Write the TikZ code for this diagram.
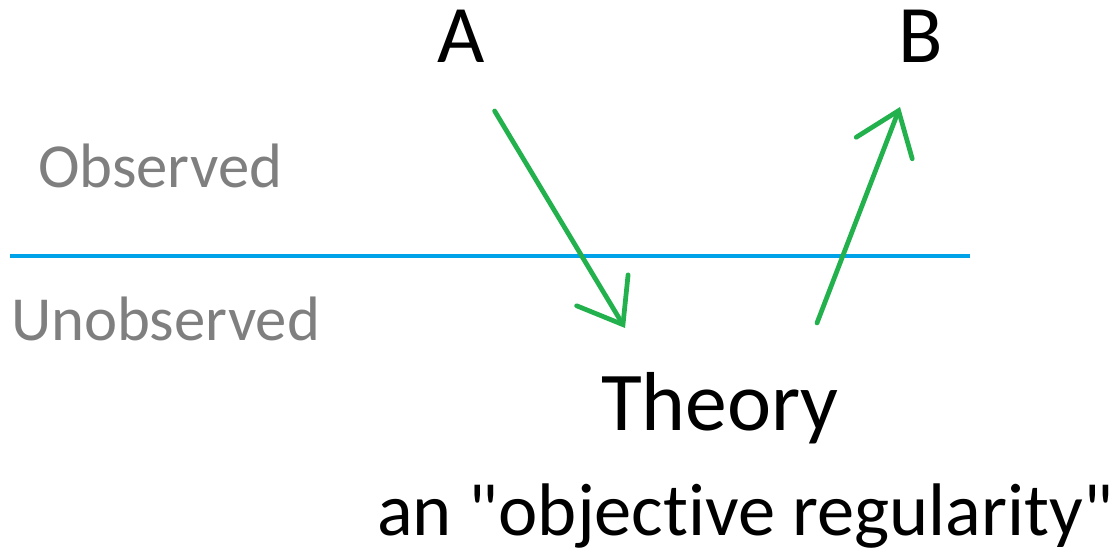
\documentclass[tikz,border=0pt]{standalone}
\usepackage{fontspec}
\setmainfont{Carlito}[Ligatures={TeXOff,CommonOff}]
\usetikzlibrary{arrows.meta}
\definecolor{paintgreen}{RGB}{34,177,76}
\definecolor{paintblue}{RGB}{0,162,232}
\definecolor{labelgray}{RGB}{127,127,127}
\begin{document}
\begin{tikzpicture}[x=.02cm,y=-.02cm,line join=round,line cap=round,
	txt/.style={inner sep=0pt,outer sep=0pt},
	region/.style={txt,anchor=base west,text=labelgray,font=\fontsize{35.7pt}{43pt}\selectfont},
	event/.style={txt,anchor=base,font=\fontsize{46.5pt}{56pt}\selectfont},
	link/.style={paintgreen,line width=.095cm,-{Straight Barb[length=.8cm,width=1.2cm,line cap=round]}}]
			\useasboundingbox (0,0) rectangle (1116,554);
			\draw[paintblue,line width=.075cm,line cap=butt] (10,256)--(970,256);
			\node[region] (obs) at (38,188) {Observed};
			\node[region] (unobs) at (11,340) {Unobserved};
			\node[event] (A) at (461,63) {A};
			\node[event] (B) at (921,63) {B};
			\node[txt,anchor=base,font=\fontsize{47.6pt}{57pt}\selectfont] (theory) at (720,430) {Theory};
			\node[txt,anchor=base east,font=\fontsize{42.4pt}{51pt}\selectfont] (reg) at (1113,535) {an "objective regularity"};
			\coordinate (in) at (625,328);
			\coordinate (out) at (817,323);
			\draw[link] (A.south east)++(10,48) -- (in);
			\draw[link] (out) -- (900,107);
\end{tikzpicture}
\end{document}
